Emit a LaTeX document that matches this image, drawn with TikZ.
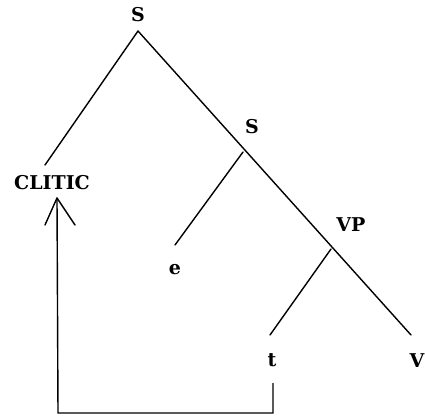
\documentclass[tikz,border=0pt]{standalone}
\usepackage{fontspec}
\setmainfont{DejaVu Serif}
\begin{document}
\begin{tikzpicture}[x=1pt,y=-1pt,
  lbl/.style={inner sep=0pt,font=\bfseries\fontsize{19}{19}\selectfont},
  edge/.style={line width=1.4pt,line cap=round}]
\useasboundingbox (0,0) rectangle (425,417);
\node[lbl] (s1) at (138,15) {S};
\node[lbl] (s2) at (252,127) {S};
\node[lbl] (vp) at (351,225) {VP};
\node[lbl] (cl) at (52,183) {CLITIC};
\node[lbl] (e) at (175,270) {e};
\node[lbl] (t) at (272,360) {t};
\node[lbl] (v) at (417,361) {V};
\coordinate (top) at (138,31);
\coordinate (b1) at (243,152);
\coordinate (b2) at (331,249);
\coordinate (vend) at (411,335);
\coordinate (clend) at (45,165);
\coordinate (eend) at (175,245);
\coordinate (tend) at (270,335);
\coordinate (tip) at (57,198);
\coordinate (hl) at (45,225);
\coordinate (hr) at (75,225);
\coordinate (bl) at (58,413);
\coordinate (br) at (273,413);
\coordinate (tb) at (273,383);
\draw[edge] (top) -- (clend);
\draw[edge] (top) -- (vend);
\draw[edge] (b1) -- (eend);
\draw[edge] (b2) -- (tend);
\draw[edge] (tip) -- (hl);
\draw[edge] (tip) -- (hr);
\draw[edge,line cap=butt] (tip) -- (bl) -- (br) -- (tb);
\end{tikzpicture}
\end{document}
